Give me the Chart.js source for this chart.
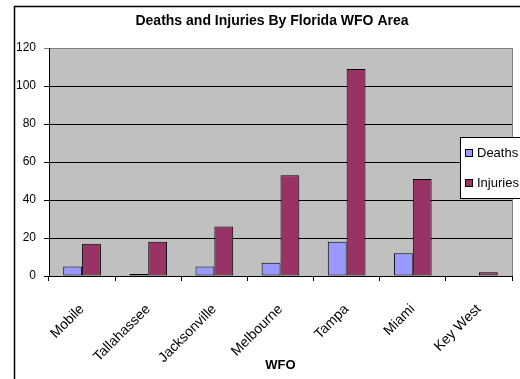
<!DOCTYPE html>
<html lang="en">
<head>
<meta charset="UTF-8">
<title>Deaths and Injuries By Florida WFO Area</title>
<script src="https://cdn.jsdelivr.net/npm/chart.js@4.4.1/dist/chart.umd.min.js"></script>
<style>
  html, body { margin: 0; padding: 0; background: #fff; }
  #wrap { width: 520px; height: 379px; }
</style>
</head>
<body>
<div id="wrap"><canvas id="chart"></canvas></div>
<script>
const chartTitle = 'Deaths and Injuries By Florida WFO Area';
const offices = ['Mobile', 'Tallahassee', 'Jacksonville', 'Melbourne', 'Tampa', 'Miami', 'Key West'];
const deaths = [5, 1, 5, 7, 18, 12, 0];
const injuries = [17, 18, 26, 53, 109, 51, 2];
const yTicks = [0, 20, 40, 60, 80, 100, 120];

const FONT = "'Liberation Sans', Arial, sans-serif";

// grey plot area, outer frame, title over the frame centre and the boxed legend on the plot
const decor = {
    id: 'decor',
    beforeDraw(chart) {
        const { ctx, chartArea: a } = chart;
        ctx.save();
        ctx.fillStyle = '#fff';
        ctx.fillRect(0, 0, chart.width, chart.height);
        ctx.fillStyle = '#c0c0c0';
        ctx.fillRect(a.left, a.top, a.right - a.left, a.bottom - a.top);
        ctx.strokeStyle = '#000';
        ctx.lineWidth = 1.5;
        ctx.beginPath();
        ctx.moveTo(14.5, chart.height);
        ctx.lineTo(14.5, 6.5);
        ctx.lineTo(chart.width, 6.5);
        ctx.stroke();
        ctx.fillStyle = '#000';
        ctx.font = 'bold 14px ' + FONT;
        ctx.textAlign = 'center';
        ctx.textBaseline = 'middle';
        ctx.fillText(chartTitle, 272, 21);
        ctx.restore();
    },
    beforeDatasetsDraw(chart) {
        const { ctx, chartArea: a } = chart;
        ctx.save();
        ctx.strokeStyle = '#808080';
        ctx.lineWidth = 1;
        ctx.beginPath();
        ctx.moveTo(Math.round(a.right) + 0.5, a.top);
        ctx.lineTo(Math.round(a.right) + 0.5, a.bottom);
        ctx.stroke();
        ctx.restore();
    },
    afterDraw(chart) {
        const { ctx } = chart;
        const x = 460.5, y = 137.5;
        ctx.save();
        ctx.fillStyle = '#fff';
        ctx.strokeStyle = '#000';
        ctx.lineWidth = 1;
        ctx.fillRect(x, y, 80, 61);
        ctx.strokeRect(x, y, 80, 61);
        ctx.font = '13px ' + FONT;
        ctx.textBaseline = 'middle';
        chart.data.datasets.forEach((ds, i) => {
            const cy = 153 + i * 30;
            ctx.fillStyle = ds.backgroundColor;
            ctx.fillRect(465.5, cy - 3.5, 7, 7);
            ctx.strokeRect(465.5, cy - 3.5, 7, 7);
            ctx.fillStyle = '#000';
            ctx.fillText(ds.label, 477, cy);
        });
        ctx.restore();
    }
};

new Chart(document.getElementById('chart'), {
    type: 'bar',
    data: {
        labels: offices,
        datasets: [{
            label: 'Deaths',
            data: deaths,
            backgroundColor: '#9999ff',
            borderColor: '#000',
            borderWidth: 1,
            borderSkipped: false
        }, {
            label: 'Injuries',
            data: injuries,
            backgroundColor: '#993366',
            borderColor: '#000',
            borderWidth: 1,
            borderSkipped: false
        }]
    },
    options: {
        responsive: true,
        maintainAspectRatio: false,
        animation: false,
        categoryPercentage: 0.57,
        barPercentage: 1,
        layout: { padding: { left: 16, right: 8, top: 48, bottom: 0 } },
        plugins: {
            legend: { display: false },
            tooltip: { enabled: false },
            title: { display: false }
        },
        scales: {
            x: {
                grid: { drawOnChartArea: false, color: '#000', tickLength: 5, offset: true },
                border: { color: '#000', width: 1 },
                ticks: {
                    color: '#000',
                    font: { family: FONT, size: 14 },
                    minRotation: 45,
                    maxRotation: 45,
                    padding: 20
                },
                title: {
                    display: true,
                    text: 'WFO',
                    color: '#000',
                    font: { family: FONT, size: 13, weight: 'bold' },
                    padding: { top: 0, bottom: 6 }
                },
                afterFit(s) { s.height = 103; }
            },
            y: {
                min: 0,
                max: 120,
                afterBuildTicks(s) { s.ticks = yTicks.map(v => ({ value: v })); },
                grid: {
                    color: c => (c.tick && c.tick.value === 120 ? '#808080' : '#000'),
                    tickLength: 5
                },
                border: { color: '#000', width: 1 },
                ticks: { color: '#000', font: { family: FONT, size: 12 }, padding: 8 },
                afterFit(s) { s.width = 33; }
            }
        }
    },
    plugins: [decor]
});
</script>
</body>
</html>
